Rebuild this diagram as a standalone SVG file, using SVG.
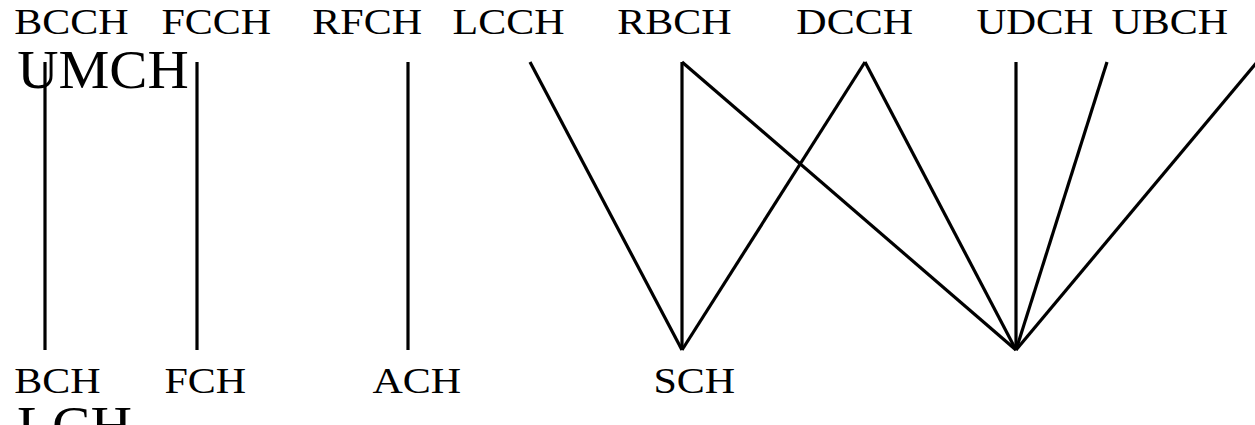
<svg xmlns="http://www.w3.org/2000/svg" width="1255" height="425" viewBox="0 0 1255 425">
<style>
text{font-family:"Liberation Serif","Times New Roman",serif;fill:#000}
.s{font-size:35px}
.b{font-size:54px}
.c line{stroke:#000;stroke-width:3.2}
</style>
<rect width="1255" height="425" fill="#fff"/>
<g class="c" id="connectors">
<line x1="45" y1="62" x2="45" y2="350"/>
<line x1="197" y1="62" x2="197" y2="350"/>
<line x1="408" y1="62" x2="408" y2="350"/>
<line x1="530" y1="62" x2="682" y2="350"/>
<line x1="682" y1="62" x2="682" y2="350"/>
<line x1="682" y1="62" x2="1016" y2="350"/>
<line x1="865" y1="62" x2="682" y2="350"/>
<line x1="865" y1="62" x2="1016" y2="350"/>
<line x1="1016" y1="62" x2="1016" y2="350"/>
<line x1="1107" y1="62" x2="1016" y2="350"/>
<line x1="1257" y1="62" x2="1016" y2="350"/>
</g>
<g id="BCCH"><text class="s" x="14.3" y="34" textLength="114.4" lengthAdjust="spacingAndGlyphs">BCCH</text></g>
<g id="FCCH"><text class="s" x="161.5" y="34" textLength="109.7" lengthAdjust="spacingAndGlyphs">FCCH</text></g>
<g id="RFCH"><text class="s" x="312.3" y="34" textLength="109.7" lengthAdjust="spacingAndGlyphs">RFCH</text></g>
<g id="LCCH"><text class="s" x="452.5" y="34" textLength="112" lengthAdjust="spacingAndGlyphs">LCCH</text></g>
<g id="RBCH"><text class="s" x="617.3" y="34" textLength="114.4" lengthAdjust="spacingAndGlyphs">RBCH</text></g>
<g id="DCCH"><text class="s" x="796.3" y="34" textLength="116.7" lengthAdjust="spacingAndGlyphs">DCCH</text></g>
<g id="UDCH"><text class="s" x="976.4" y="34" textLength="117" lengthAdjust="spacingAndGlyphs">UDCH</text></g>
<g id="UBCH"><text class="s" x="1111.4" y="34" textLength="116.7" lengthAdjust="spacingAndGlyphs">UBCH</text></g>
<g id="UMCH"><text class="b" x="17.2" y="88" textLength="171.6" lengthAdjust="spacingAndGlyphs">UMCH</text></g>
<g id="BCH"><text class="s" x="14.3" y="393" textLength="86.4" lengthAdjust="spacingAndGlyphs">BCH</text></g>
<g id="FCH"><text class="s" x="164.5" y="393" textLength="81.7" lengthAdjust="spacingAndGlyphs">FCH</text></g>
<g id="ACH"><text class="s" x="372.4" y="393" textLength="88.7" lengthAdjust="spacingAndGlyphs">ACH</text></g>
<g id="SCH"><text class="s" x="653.5" y="393" textLength="81.7" lengthAdjust="spacingAndGlyphs">SCH</text></g>
<g id="LCH"><text class="b" x="17" y="444" textLength="115" lengthAdjust="spacingAndGlyphs">LCH</text></g>
</svg>
